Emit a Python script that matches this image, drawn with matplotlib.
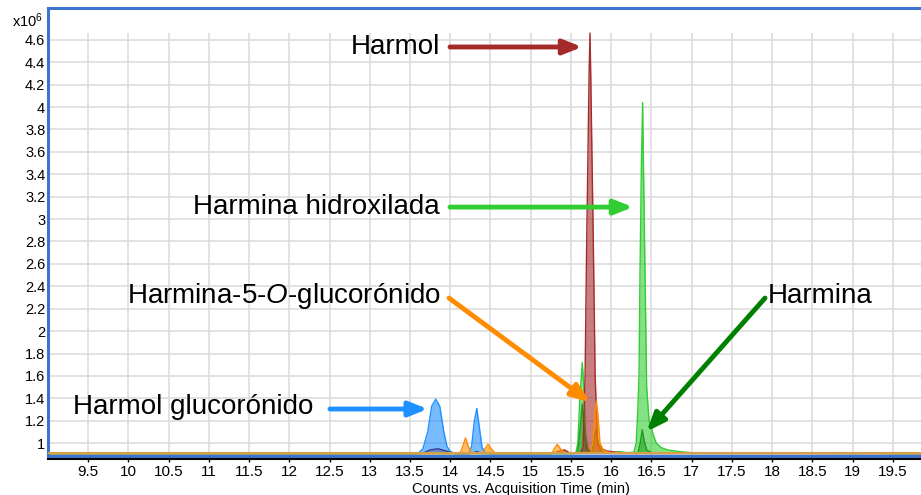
import matplotlib
matplotlib.use("Agg")
import matplotlib.pyplot as plt
from matplotlib.lines import Line2D

plt.rcParams['font.family'] = ['Liberation Sans', 'DejaVu Sans']
plt.rcParams['mathtext.fontset'] = 'custom'
plt.rcParams['mathtext.rm'] = 'Liberation Sans'
plt.rcParams['mathtext.it'] = 'Liberation Sans:italic'

# --- traces (time in min, counts x10^6) ---
harmolgluc_t = [9.0, 13.6, 13.66, 13.72, 13.77, 13.82, 13.87, 13.92, 13.96, 14.0, 14.06,
                14.23, 14.265, 14.3, 14.33, 14.36, 14.395, 14.44, 14.5, 19.85]
harmolgluc_v = [0.908, 0.908, 0.95, 1.1, 1.33, 1.393, 1.33, 1.1, 0.97, 0.925, 0.908,
                0.908, 0.97, 1.2, 1.31, 1.15, 0.96, 0.915, 0.908, 0.908]

minor_t = [9.0, 13.65, 13.75, 13.85, 13.95, 14.05, 14.25, 14.33, 14.4, 19.85]
minor_v = [0.908, 0.908, 0.94, 0.95, 0.93, 0.908, 0.908, 0.925, 0.908, 0.908]

hidrox_t = [9.0, 9.52, 9.56, 9.6, 15.5, 15.56, 15.585, 15.61, 15.64, 15.66, 15.68, 15.71,
            15.76, 16.0, 16.1, 16.2, 16.28, 16.31, 16.33, 16.345, 16.357, 16.375, 16.39,
            16.40, 16.42, 16.44, 16.47, 16.52, 16.56, 16.62, 16.7, 16.85, 17.0, 17.4,
            19.1, 19.15, 19.35, 19.4, 19.85]
hidrox_v = [0.908, 0.908, 0.915, 0.908, 0.908, 0.912, 1.0, 1.4, 1.72, 1.5, 1.1, 0.95,
            0.92, 0.915, 0.925, 0.915, 0.92, 1.0, 1.3, 1.6, 2.5, 3.5, 4.04,
            3.5, 2.5, 1.5, 1.2, 1.08, 1.0, 0.96, 0.94, 0.925, 0.915, 0.912,
            0.908, 0.915, 0.915, 0.908, 0.908]

harmina_t = [9.0, 15.58, 15.61, 15.64, 15.67, 15.7, 15.76, 15.79, 15.81, 15.84, 15.88,
             16.33, 16.36, 16.385, 16.41, 16.44, 16.5, 19.85]
harmina_v = [0.908, 0.908, 1.1, 1.35, 1.05, 0.93, 0.93, 1.05, 1.12, 1.0, 0.92,
             0.908, 1.0, 1.12, 1.02, 0.94, 0.915, 0.908]

harmol_t = [9.0, 15.25, 15.3, 15.36, 15.42, 15.48, 15.62, 15.65, 15.675, 15.695, 15.725,
            15.736, 15.745, 15.777, 15.80, 15.83, 15.88, 15.95, 16.05, 16.15, 19.85]
harmol_v = [0.908, 0.908, 0.915, 0.93, 0.94, 0.915, 0.912, 0.97, 1.6, 2.8, 4.3,
            4.66, 4.3, 2.8, 1.6, 1.0, 0.95, 0.93, 0.92, 0.91, 0.908]

gluc5_t = [9.0, 14.12, 14.16, 14.19, 14.22, 14.26, 14.4, 14.43, 14.47, 14.51, 14.56,
           15.26, 15.3, 15.33, 15.37, 15.42, 15.74, 15.77, 15.795, 15.815, 15.835,
           15.86, 15.9, 15.96, 16.05, 19.85]
gluc5_v = [0.908, 0.908, 0.98, 1.047, 0.98, 0.915, 0.908, 0.95, 0.99, 0.95, 0.908,
           0.908, 0.96, 0.99, 0.95, 0.91, 0.91, 1.0, 1.25, 1.375, 1.25,
           1.0, 0.94, 0.92, 0.908, 0.908]

x_ticks = [9.5, 10, 10.5, 11, 11.5, 12, 12.5, 13, 13.5, 14, 14.5, 15, 15.5, 16, 16.5,
           17, 17.5, 18, 18.5, 19, 19.5]
y_ticks = [1.0, 1.2, 1.4, 1.6, 1.8, 2.0, 2.2, 2.4, 2.6, 2.8, 3.0, 3.2, 3.4, 3.6, 3.8,
           4.0, 4.2, 4.4, 4.6]
y_labels = ['1', '1.2', '1.4', '1.6', '1.8', '2', '2.2', '2.4', '2.6', '2.8', '3',
            '3.2', '3.4', '3.6', '3.8', '4', '4.2', '4.4', '4.6']

fig = plt.figure(figsize=(9.21, 4.95), dpi=100)
ax = fig.add_axes([48 / 921, 1 - 455.5 / 495, 1 - 48 / 921, (455.5 - 8) / 495])
ax.set_xlim(9.003, 19.848)
ax.set_ylim(0.89, 4.884)

# grid
for yt in y_ticks:
    ax.axhline(yt, color='#dddddd', lw=1.2, zorder=0)
ax.vlines(x_ticks, 0.89, 4.66, color='#dddddd', lw=1.2, zorder=0)

base = 0.908
traces = [
    (harmolgluc_t, harmolgluc_v, '#1e90ff', 0.6),
    (minor_t, minor_v, '#3b3b8f', 0.4),
    (hidrox_t, hidrox_v, '#32cd32', 0.6),
    (harmina_t, harmina_v, '#1f9a1f', 0.55),
    (harmol_t, harmol_v, '#a52a2a', 0.6),
    (gluc5_t, gluc5_v, '#ff8c00', 0.6),
]
for i, (t, v, c, a) in enumerate(traces):
    ax.fill_between(t, base, v, color=c, alpha=a, lw=0, zorder=2 + i)
    ax.plot(t, v, color=c, lw=1, zorder=2 + i)
ax.axhline(base, color='#d4a04a', lw=1.5, zorder=10)

# spines
blue = '#3a74d0'
for s in ['left', 'top', 'bottom']:
    ax.spines[s].set_color(blue)
    ax.spines[s].set_linewidth(2.2)
ax.spines['right'].set_visible(False)
fig.add_artist(Line2D([48 / 921, 1], [1 - 458.5 / 495] * 2, color='black', lw=1.5))

ax.set_xticks(x_ticks)
ax.set_xticklabels([f'{x:g}' for x in x_ticks])
ax.set_yticks(y_ticks)
ax.set_yticklabels(y_labels)
ax.tick_params(axis='x', length=4, width=1, color='black', pad=3, labelsize=11)
ax.tick_params(axis='y', length=0, pad=2, labelsize=10.5)

fig.text(12 / 921, 1 - 27 / 495, r'x10$^{6}$', fontsize=10.5, ha='left', va='baseline')
fig.text(521 / 921, 1 - 489 / 495, 'Counts vs. Acquisition Time (min)', fontsize=10.5,
         ha='center', va='center')

# labels and arrows
def arrow(start, tip, color):
    ax.annotate('', xy=tip, xytext=start,
                arrowprops=dict(arrowstyle='-|>,head_length=0.55,head_width=0.22',
                                lw=3.5, color=color, shrinkA=0, shrinkB=0,
                                mutation_scale=20), zorder=20)

ax.text(13.873, 4.536, 'Harmol', fontsize=20, ha='right', va='center', zorder=20)
arrow((13.997, 4.536), (15.637, 4.536), '#a52a2a')

ax.text(13.873, 3.107, 'Harmina hidroxilada', fontsize=20, ha='right', va='center', zorder=20)
arrow((13.997, 3.107), (16.27, 3.107), '#32cd32')

ax.text(13.885, 2.3125, r'Harmina-5-$\mathit{O}$-glucorónido', fontsize=20, ha='right',
        va='center', zorder=20)
arrow((13.985, 2.295), (15.736, 1.366), '#ff8c00')

ax.text(17.947, 2.3125, 'Harmina', fontsize=20, ha='left', va='center', zorder=20)
arrow((17.91, 2.295), (16.44, 1.103), '#008000')

ax.text(12.295, 1.321, 'Harmol glucorónido', fontsize=20, ha='right', va='center', zorder=20)
arrow((12.506, 1.305), (13.72, 1.305), '#1e90ff')

fig.savefig('out.png', dpi=100)
